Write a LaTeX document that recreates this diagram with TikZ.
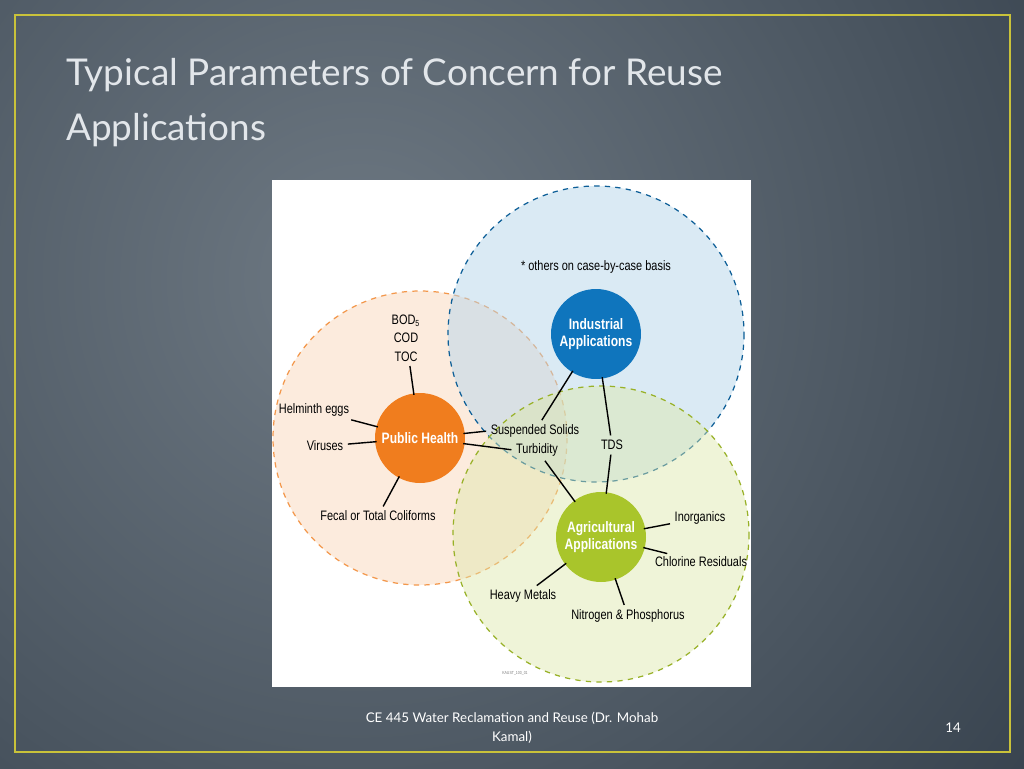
\documentclass[tikz,border=0pt]{standalone}
\usepackage{fontspec}
\setmainfont{Lato}
\newfontfamily\narrow[FakeStretch=0.8]{Liberation Sans}
\definecolor{slidefg}{HTML}{E2E6EA}
\definecolor{frameyel}{HTML}{C9C23A}
\definecolor{bginner}{HTML}{6E7983}
\definecolor{bgouter}{HTML}{27323E}
\definecolor{phorange}{HTML}{F07D1E}
\definecolor{indblue}{HTML}{0F75BD}
\definecolor{agrgreen}{HTML}{A9C52B}
\tikzset{
  param/.style={font=\narrow\fontsize{7.8}{9}\selectfont, inner sep=1.5pt},
  hub/.style={circle, minimum size=1.8cm, inner sep=0pt, text=white, align=center, font=\narrow\bfseries\fontsize{8.6}{10}\selectfont},
  zone/.style={dashed, line width=0.7pt},
  link/.style={line width=0.8pt, shorten <=-1pt, shorten >=1pt}
}
\begin{document}
\begin{tikzpicture}[x=0.02cm, y=-0.02cm]
\useasboundingbox (0,0) rectangle (1024,768);
% background
\begin{scope}
\clip (0,0) rectangle (1024,768);
\fill[bgouter] (0,0) rectangle (1024,768);
\shade[inner color=bginner, outer color=bgouter] (360,280) circle[radius=1100];
\end{scope}
\draw[frameyel, line width=1.2pt] (15,15) rectangle (1010,752);
% title and footer
\node[anchor=west, text=slidefg, font=\fontsize{21}{26}\selectfont] (title1) at (60,75) {Typical Parameters of Concern for Reuse};
\node[anchor=west, text=slidefg, font=\fontsize{21}{26}\selectfont] (title2) at (60,130) {Applications};
\node[text=white, align=center, font=\fontsize{7.6}{11}\selectfont] (foot) at (512,728) {CE 445 Water Reclamation and Reuse (Dr. Mohab\\Kamal)};
\node[text=white, font=\fontsize{7.6}{9}\selectfont] (page) at (953,728) {14};
% figure
\fill[white] (272,180) rectangle (751,687);
\filldraw[zone, draw=phorange!80, fill=phorange!25, fill opacity=0.6] (420,438) circle[radius=147];
\filldraw[zone, draw=indblue!80!black, fill=indblue!30, fill opacity=0.5] (596,334) circle[radius=148];
\filldraw[zone, draw=agrgreen!90!black, fill=agrgreen!40, fill opacity=0.45] (601,534) circle[radius=148];
\node[param] (note) at (596,267) {* others on case-by-case basis};
\node[hub, fill=phorange] (ph) at (420,438) {Public Health};
\node[hub, fill=indblue] (ind) at (596,334) {Industrial\\Applications};
\node[hub, fill=agrgreen] (agr) at (601,537) {Agricultural\\Applications};
\node[param, align=center, font=\narrow\fontsize{7.8}{10.5}\selectfont] (bod) at (406,338) {BOD\textsubscript{\tiny 5}\\COD\\TOC};
\node[param] (helm) at (314,410) {Helminth eggs};
\node[param] (vir) at (325,446) {Viruses};
\node[param] (fecal) at (378,516) {Fecal or Total Coliforms};
\node[param] (ss) at (535,431) {Suspended Solids};
\node[param] (turb) at (537,450) {Turbidity};
\node[param] (tds) at (612,445) {TDS};
\node[param] (inorg) at (700,518) {Inorganics};
\node[param] (chlor) at (701,562) {Chlorine Residuals};
\node[param] (heavy) at (523,596) {Heavy Metals};
\node[param] (nitro) at (628,616) {Nitrogen \& Phosphorus};
\node[font=\narrow\fontsize{2.5}{3}\selectfont, text=gray] (code) at (515,673) {KAUST\_100\_01};
\draw[link] (ph) -- (bod);
\draw[link] (ph) -- (helm);
\draw[link] (ph) -- (vir);
\draw[link] (ph) -- (fecal);
\draw[link] (ph) -- (ss.west);
\draw[link] (ph) -- (turb.west);
\draw[link] (ind) -- (ss);
\draw[link] (ind) -- (tds);
\draw[link] (agr) -- (tds);
\draw[link] (agr) -- (turb);
\draw[link] (agr) -- (inorg);
\draw[link] (agr) -- (chlor);
\draw[link] (agr) -- (heavy);
\draw[link] (agr) -- (nitro);
\end{tikzpicture}
\end{document}
